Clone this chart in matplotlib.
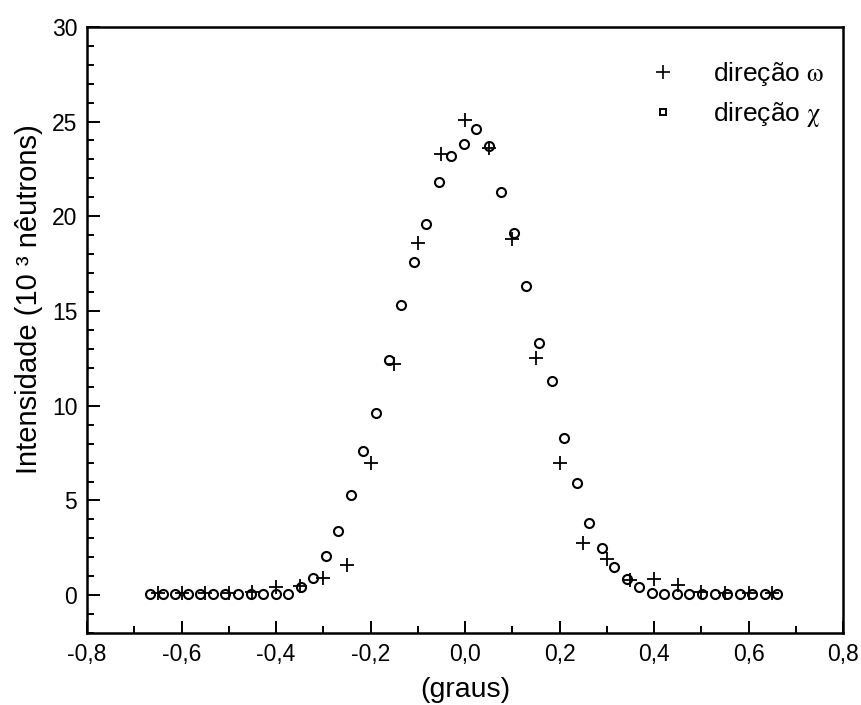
import numpy as np
import matplotlib
matplotlib.use("Agg")
import matplotlib.pyplot as plt
from matplotlib.lines import Line2D
from matplotlib.ticker import MultipleLocator, FuncFormatter

plt.rcParams["font.family"] = ["Liberation Sans", "DejaVu Sans"]
plt.rcParams["mathtext.fontset"] = "stix"

# direcao chi (open circles)
chi_x = [-0.667, -0.640, -0.614, -0.587, -0.560, -0.534, -0.507, -0.481, -0.454, -0.428,
         -0.401, -0.375, -0.348, -0.321, -0.295, -0.268, -0.242, -0.215, -0.189, -0.162,
         -0.135, -0.109, -0.082, -0.056, -0.029, -0.003, 0.024, 0.050, 0.077, 0.104,
         0.130, 0.157, 0.183, 0.210, 0.236, 0.263, 0.290, 0.316, 0.343, 0.369,
         0.396, 0.422, 0.449, 0.475, 0.502, 0.529, 0.555, 0.582, 0.608, 0.635, 0.661]
chi_y = [0.05, 0.05, 0.05, 0.05, 0.05, 0.05, 0.05, 0.05, 0.05, 0.05,
         0.05, 0.05, 0.42, 0.9, 2.06, 3.4, 5.3, 7.6, 9.6, 12.4,
         15.3, 17.6, 19.6, 21.8, 23.2, 23.8, 24.6, 23.7, 21.3, 19.1,
         16.3, 13.3, 11.3, 8.3, 5.9, 3.8, 2.5, 1.5, 0.85, 0.42,
         0.1, 0.05, 0.05, 0.05, 0.05, 0.05, 0.05, 0.05, 0.05, 0.05, 0.05]

# direcao omega (+)
om_x = [-0.65, -0.60, -0.55, -0.50, -0.45, -0.40, -0.35, -0.30, -0.25, -0.20,
        -0.15, -0.10, -0.05, 0.00, 0.05, 0.10, 0.15, 0.20, 0.25, 0.30,
        0.35, 0.40, 0.45, 0.50, 0.55, 0.60, 0.65]
om_y = [0.1, 0.1, 0.1, 0.1, 0.15, 0.45, 0.5, 0.9, 1.6, 7.0,
        12.2, 18.6, 23.3, 25.1, 23.6, 18.8, 12.5, 7.0, 2.75, 1.9,
        0.8, 0.85, 0.55, 0.15, 0.1, 0.1, 0.1]

fig = plt.figure(figsize=(8.62, 7.05), dpi=100)
ax = fig.add_axes([0.101, 0.102, 0.877, 0.860])

ax.plot(chi_x, chi_y, "o", ls="none", ms=6.5, mfc="none", mec="black", mew=1.5)
ax.plot(om_x, om_y, "+", ls="none", ms=10, mec="black", mew=1.3)

ax.set_xlim(-0.8, 0.8)
ax.set_ylim(-2, 30)
ax.xaxis.set_major_locator(MultipleLocator(0.2))
ax.xaxis.set_minor_locator(MultipleLocator(0.1))
ax.yaxis.set_major_locator(MultipleLocator(5))
ax.yaxis.set_minor_locator(MultipleLocator(1))
ax.xaxis.set_major_formatter(FuncFormatter(lambda v, p: f"{v:.1f}".replace(".", ",").replace("-0,0", "0,0")))
ax.yaxis.set_major_formatter(FuncFormatter(lambda v, p: f"{v:.0f}"))
ax.tick_params(which="both", direction="in", top=False, right=False, labelsize=16.5, width=1.4)
ax.tick_params(which="major", length=9, pad=7)
ax.tick_params(which="minor", length=5)
for s in ax.spines.values():
    s.set_linewidth(1.8)

ax.set_xlabel("(graus)", fontsize=20.5, labelpad=8)
ax.set_ylabel("Intensidade (10 ³ nêutrons)", fontsize=21)
ax.yaxis.set_label_coords(-0.058, 0.55)

handles = [Line2D([], [], marker="+", ls="none", ms=10, mec="black", mew=1.2),
           Line2D([], [], marker="s", ls="none", ms=5, mfc="none", mec="black", mew=1.4)]
labels = [r"direção $\mathrm{\omega}$", r"direção $\mathrm{\chi}$"]
ax.legend(handles, labels, loc="upper right", bbox_to_anchor=(0.976, 0.945), frameon=False,
          fontsize=19, handlelength=0.8, handletextpad=1.5, labelspacing=0.45,
          borderpad=0, borderaxespad=0)

fig.savefig("out.png", dpi=100)
